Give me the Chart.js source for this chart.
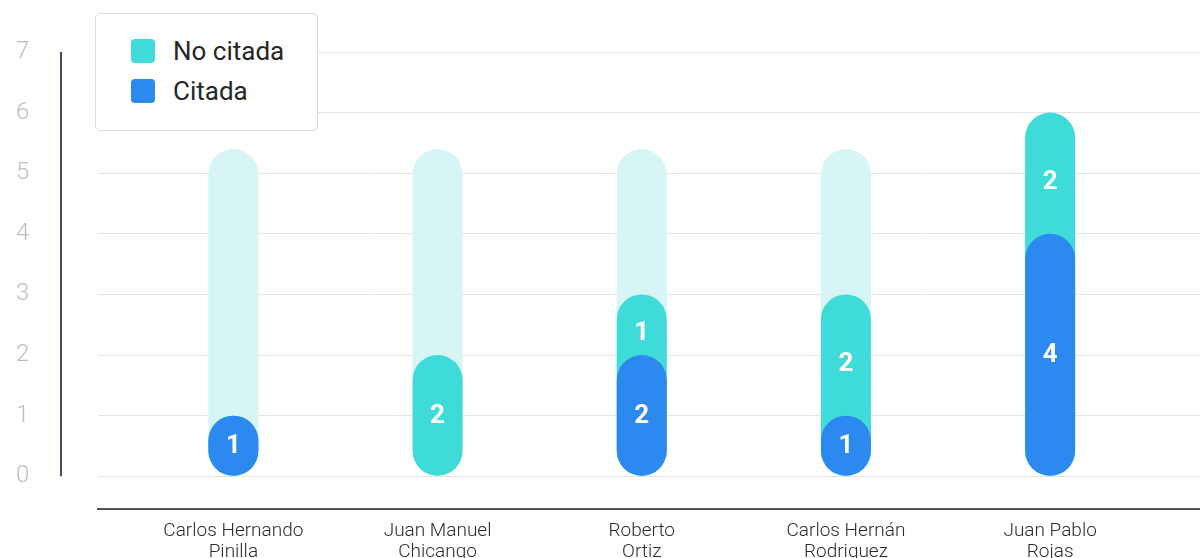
<!DOCTYPE html>
<html>
<head>
<meta charset="utf-8">
<script src="https://cdn.jsdelivr.net/npm/chart.js@4.4.0/dist/chart.umd.min.js"></script>
<style>
  body { margin: 0; background: #fff; font-family: Roboto, sans-serif; }
  #wrap { position: relative; width: 1200px; height: 558px; overflow: hidden; }
  #legend {
    position: absolute; left: 95px; top: 13px; width: 223px; height: 118px;
    box-sizing: border-box; border: 1px solid #dcdcdc; border-radius: 5px;
    background: #fff; padding: 17px 0 0 35px;
  }
  .item { display: flex; align-items: center; height: 40px; }
  .swatch { width: 24px; height: 24px; border-radius: 4px; margin-right: 18px; }
  .item span { font-size: 26px; color: #262626; }
</style>
</head>
<body>
<div id="wrap">
  <canvas id="myChart" width="1200" height="558"></canvas>
  <div id="legend"></div>
</div>
<script>
// datos
const categories = [
  ['Carlos Hernando', 'Pinilla'],
  ['Juan Manuel', 'Chicango'],
  ['Roberto', 'Ortiz'],
  ['Carlos Hernán', 'Rodriguez'],
  ['Juan Pablo', 'Rojas']
];
const citada = [1, 0, 2, 1, 4];
const noCitada = [0, 2, 1, 2, 2];
const fondo = [5.4, 5.4, 5.4, 5.4, 5.4];
const yTicks = [0, 1, 2, 3, 4, 5, 6, 7];

const colorCitada = '#2b89f0';
const colorNoCitada = '#3edbd8';
const colorFondo = '#d6f5f4';
const radius = {topLeft: 25, topRight: 25, bottomLeft: 25, bottomRight: 25};

function points(values) {
  return values.map((v, i) => ({x: i, y: v}));
}

// linea vertical del eje y (separada del area)
const axisLine = {
  id: 'axisLine',
  afterDraw(chart) {
    const y = chart.scales.y;
    const c = chart.ctx;
    c.save();
    c.strokeStyle = '#4d4759';
    c.lineWidth = 2;
    c.beginPath();
    c.moveTo(61, y.getPixelForValue(yTicks[yTicks.length - 1]));
    c.lineTo(61, y.getPixelForValue(yTicks[0]));
    c.stroke();
    c.restore();
  }
};

// numeros blancos dentro de las barras
const barLabels = {
  id: 'barLabels',
  afterDatasetsDraw(chart) {
    const c = chart.ctx;
    const blue = chart.getDatasetMeta(0).data;
    const teal = chart.getDatasetMeta(1).data;
    c.save();
    c.fillStyle = '#fff';
    c.font = 'bold 26px Roboto';
    c.textAlign = 'center';
    c.textBaseline = 'middle';
    citada.forEach((v, i) => {
      if (v > 0) c.fillText(v, blue[i].x, (blue[i].y + blue[i].base) / 2 + 1);
    });
    noCitada.forEach((v, i) => {
      if (v > 0) {
        let bottom = citada[i] > 0 ? blue[i].y + 16 : teal[i].base;
        c.fillText(v, teal[i].x, (teal[i].y + bottom) / 2 + 1);
      }
    });
    c.restore();
  }
};

let ctx = document.getElementById('myChart').getContext('2d');
let chart = new Chart(ctx, {
  type: 'bar',
  data: {
    datasets: [{
      label: 'Citada',
      data: points(citada),
      backgroundColor: colorCitada,
      stack: 'main', order: 0
    }, {
      label: 'No citada',
      data: points(noCitada),
      backgroundColor: colorNoCitada,
      stack: 'main', order: 1,
      base: 0
    }, {
      label: 'fondo',
      data: points(fondo),
      backgroundColor: colorFondo,
      stack: 'bg', order: 2
    }].map(ds => Object.assign(ds, {
      grouped: false, barThickness: 50, borderRadius: radius,
      borderSkipped: false, inflateAmount: 0
    }))
  },
  options: {
    responsive: false,
    animation: false,
    layout: {padding: {top: 52, left: 16, right: 0, bottom: 0}},
    plugins: {legend: {display: false}, tooltip: {enabled: false}},
    scales: {
      x: {
        type: 'linear',
        offset: false,
        min: -0.663, max: 4.734,
        grid: {display: false, drawTicks: false, offset: false},
        border: {display: true, color: '#55535e', width: 2},
        afterBuildTicks: s => { s.ticks = categories.map((c, i) => ({value: i})); },
        afterFit: s => { s.height = 49; },
        ticks: {
          padding: 12, color: '#2b2b2b', maxRotation: 0, autoSkip: false,
          font: {family: 'Roboto', size: 19, weight: 300, lineHeight: 1.1},
          callback: v => categories[v]
        }
      },
      y: {
        stacked: true,
        min: -0.54, max: 7,
        grid: {color: '#e4e4e4', drawTicks: false},
        border: {display: false},
        afterBuildTicks: s => { s.ticks = yTicks.map(v => ({value: v})); },
        afterFit: s => { s.width = 82; },
        ticks: {
          padding: 0, crossAlign: 'far', color: '#bdbdbd',
          font: {family: 'Roboto', size: 24, weight: 300}
        }
      }
    }
  },
  plugins: [axisLine, barLabels]
});

// leyenda en html, primero "No citada"
let legend = document.getElementById('legend');
[1, 0].forEach(k => {
  let ds = chart.data.datasets[k];
  let item = document.createElement('div');
  item.className = 'item';
  item.innerHTML = '<div class="swatch" style="background:' + ds.backgroundColor + '"></div><span>' + ds.label + '</span>';
  legend.appendChild(item);
});
</script>
</body>
</html>
